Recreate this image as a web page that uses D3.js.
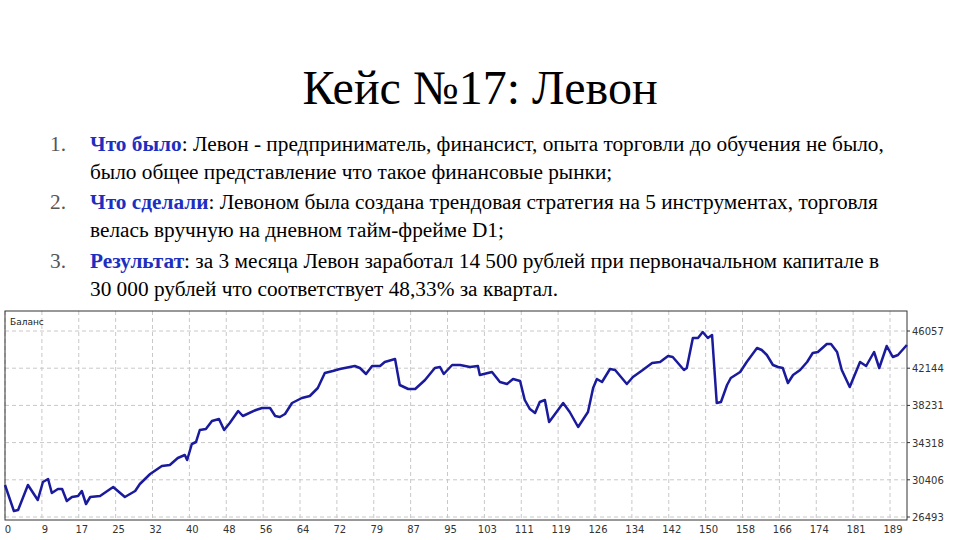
<!DOCTYPE html>
<html lang="ru">
<head>
<meta charset="UTF-8">
<title>Кейс №17</title>
<script src="https://d3js.org/d3.v7.min.js"></script>
<style>
  body { margin: 0; background: #fff; }
  svg { display: block; }
</style>
</head>
<body>
<div id="chart"></div>
<script>
// balance curve: deal index and balance
const dealIdx = [0,1.9,2.8,4.9,7.0,8.1,9.2,10.0,11.3,12.2,13.2,14.3,15.6,16.4,17.3,18.2,20.3,23.1,25.6,27.8,28.8,31.0,33.5,35.2,36.9,38.4,38.9,39.9,40.8,41.6,42.9,44.2,45.7,46.8,48.0,49.8,50.8,53.6,54.9,56.6,57.7,58.7,59.8,61.3,63.4,65.1,66.8,68.3,70.0,71.5,74.7,75.8,77.1,78.4,80.1,81.1,83.3,84.3,86.1,87.6,89.7,91.8,92.9,93.7,95.5,97.2,99.3,101.0,101.4,104.0,105.7,107.2,108.5,110.0,111.0,112.1,113.2,114.2,115.3,116.2,117.0,119.2,120.6,122.4,124.5,125.6,126.4,127.5,129.2,130.3,132.8,134.1,136.2,138.2,139.9,141.6,142.6,145.0,145.6,146.9,148.0,149.0,150.1,151.0,152.0,152.9,154.2,155.0,157.0,158.4,160.6,161.6,162.7,164.0,165.1,166.1,167.2,168.3,169.8,171.3,172.5,173.6,175.5,176.4,177.7,178.7,180.4,182.6,183.9,185.6,186.7,188.3,189.6,190.7,192.6];
const balance = [29859,27124,27229,29859,28281,30174,30490,29017,29438,29438,28176,28597,28702,29228,27860,28597,28702,29648,28597,29228,29964,31016,31857,31962,32699,33014,32489,34171,34382,35644,35749,36590,36801,35644,36380,37642,37116,37747,37958,37958,37116,37011,37327,38484,39010,39220,40061,41639,41849,42060,42375,42165,41534,42375,42375,42796,43111,40377,39956,39956,40902,42165,42270,41534,42480,42480,42270,42375,41429,41744,40692,40482,41008,40797,38799,37852,37432,38589,38799,36485,37011,38484,37537,35959,37537,40061,41008,40692,42060,41954,40482,41218,41954,42691,42796,43427,43322,41954,42165,45320,45320,45951,45320,45636,38484,38589,40377,41113,41744,42796,44268,44058,43532,42480,42270,42165,40587,41429,41954,42796,43743,43848,44689,44689,43848,41954,40166,42796,42375,43848,42165,44479,43322,43532,44584];
const yTicks = [26493,30406,34318,38231,42144,46057];
const xTickLabels = ["0","9","17","25","32","40","48","56","64","72","79","87","95","103","111","119","126","134","142","150","158","166","174","181","189"];

const title = "Кейс №17: Левон";
const items = [
  ["Что было", [": Левон - предприниматель, финансист, опыта торговли до обучения не было,", "было общее представление что такое финансовые рынки;"]],
  ["Что сделали", [": Левоном была создана трендовая стратегия на 5 инструментах, торговля", "велась вручную на дневном тайм-фрейме D1;"]],
  ["Результат", [": за 3 месяца Левон заработал 14 500 рублей при первоначальном капитале в", "30 000 рублей что соответствует 48,33% за квартал."]]
];

const W = 960, H = 540;
const svg = d3.select("#chart").append("svg").attr("width", W).attr("height", H);

svg.append("text").attr("x", 480).attr("y", 104).attr("text-anchor", "middle")
  .attr("font-family", "Liberation Serif, serif").attr("font-size", 48).attr("fill", "#000")
  .text(title);

const lineY = [151, 179, 209, 237, 268, 296];
items.forEach((it, i) => {
  const y1 = lineY[i * 2], y2 = lineY[i * 2 + 1];
  const g = svg.append("g").attr("font-family", "Liberation Serif, serif").attr("font-size", 21.3);
  g.append("text").attr("x", 50).attr("y", y1).attr("fill", "#555").text((i + 1) + ".");
  const t = g.append("text").attr("x", 90).attr("y", y1).attr("fill", "#000");
  t.append("tspan").attr("font-weight", "bold").attr("fill", "#1c2fc0").text(it[0]);
  t.append("tspan").text(it[1][0]);
  g.append("text").attr("x", 90).attr("y", y2).attr("fill", "#000").text(it[1][1]);
});

// chart area
const pLeft = 5, pRight = 907, pTop = 311, pBottom = 520;
const x = d3.scaleLinear().domain([0, 189]).range([5, 890]);
const y = d3.scaleLinear().domain([26493, 46057]).range([517, 331]);

const chart = svg.append("g").attr("font-family", "Tahoma, DejaVu Sans, sans-serif");

const step = 189 / 24;
chart.append("g").selectAll("line").data(xTickLabels).join("line")
  .attr("x1", (d, i) => x(i * step)).attr("x2", (d, i) => x(i * step))
  .attr("y1", pTop).attr("y2", pBottom)
  .attr("stroke", "#c8c8c8").attr("stroke-dasharray", "4,3");
chart.append("g").selectAll("line").data(yTicks).join("line")
  .attr("x1", pLeft).attr("x2", pRight).attr("y1", d => y(d)).attr("y2", d => y(d))
  .attr("stroke", "#c8c8c8").attr("stroke-dasharray", "4,3");

chart.append("rect").attr("x", pLeft).attr("y", pTop).attr("width", pRight - pLeft).attr("height", pBottom - pTop)
  .attr("fill", "none").attr("stroke", "#333").attr("stroke-width", 1);

chart.append("text").attr("x", 10).attr("y", 325).attr("font-size", 9).attr("fill", "#222").text("Баланс");

chart.append("g").selectAll("text").data(xTickLabels).join("text")
  .attr("x", (d, i) => x(i * step) + 3).attr("y", 533).attr("text-anchor", "middle")
  .attr("font-size", 10).attr("fill", "#333").text(d => d);
chart.append("g").selectAll("text").data(yTicks).join("text")
  .attr("x", 912).attr("y", d => y(d) + 4).attr("font-size", 10).attr("fill", "#333").text(d => d);
chart.append("g").selectAll("line").data(yTicks).join("line")
  .attr("x1", pRight).attr("x2", pRight + 3).attr("y1", d => y(d)).attr("y2", d => y(d)).attr("stroke", "#333");

const line = d3.line().x(d => x(d[0])).y(d => y(d[1]));
chart.append("path").datum(dealIdx.map((d, i) => [d, balance[i]]))
  .attr("d", line).attr("fill", "none").attr("stroke", "#1a1a9c").attr("stroke-width", 2.5)
  .attr("stroke-linejoin", "round");
</script>
</body>
</html>
